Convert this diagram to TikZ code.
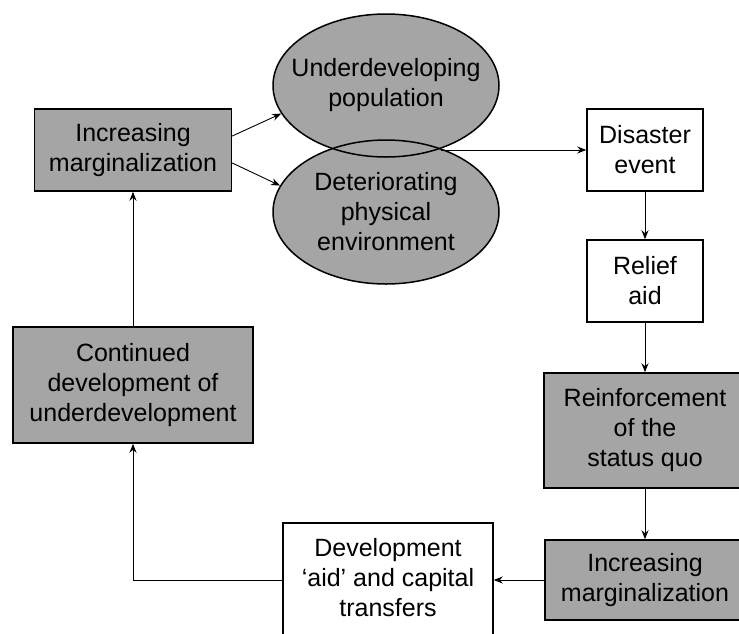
\documentclass[tikz,border=0pt]{standalone}
\usepackage{fontspec}
\setmainfont{Liberation Sans}
\usetikzlibrary{arrows.meta,shapes}
\definecolor{hatchgray}{RGB}{165,165,165}

\begin{document}
\begin{tikzpicture}[->,>={Stealth[length=9pt,width=7pt]},x=1pt,y=-1pt,line width=0.9pt,
  font=\fontsize{25}{30}\selectfont]
 \tikzstyle{every node}=[align=center,inner sep=0pt]
 \tikzstyle{plain box}=[draw,line width=1.5pt,fill=white]
 \tikzstyle{shade box}=[draw,line width=1.5pt,fill=hatchgray]
 \tikzstyle{blob}=[draw,line width=1.5pt,ellipse,inner sep=-25pt,minimum width=226pt]
   \path[use as bounding box] (0,0) rectangle (739,633);
   \clip (0,0) rectangle (739,633);
   \fill[hatchgray] (386,85.5) ellipse [x radius=113, y radius=71.5];
   \fill[hatchgray] (386,212) ellipse [x radius=113, y radius=72];
   \node[blob,minimum height=143pt] (underpop) at (386,85.5) {\raisebox{-4pt}{\begin{tabular}{@{}c@{}}Underdeveloping\\population\end{tabular}}};
   \node[blob,minimum height=144pt] (deteriorate) at (386,212) {Deteriorating\\physical\\environment};
   \node[shade box,minimum width=197pt,minimum height=82pt] (margtop) at (133,150) {Increasing\\marginalization};
   \node[shade box,minimum width=240pt,minimum height=116pt] (continued) [below of = margtop, node distance=235pt] {Continued\\development of\\underdevelopment};
   \node[plain box,minimum width=116pt,minimum height=82pt] (disaster) at (645,150) {Disaster\\event};
   \node[plain box,minimum width=116pt,minimum height=82pt] (relief) [below of = disaster, node distance=131pt] {Relief\\aid};
   \node[shade box,minimum width=202pt,minimum height=115pt] (reinforce) [below of = relief, node distance=149.5pt] {Reinforcement\\of the\\status quo};
   \node[shade box,minimum width=200pt,minimum height=80pt] (margbot) [below of = reinforce, node distance=149.5pt] {Increasing\\marginalization};
   \node[plain box,minimum width=210pt,minimum height=114pt] (devaid) [left of = margbot, node distance=257pt] {\raisebox{-2pt}{\begin{tabular}{@{}c@{}}Development\\`aid' and capital\\transfers\end{tabular}}};
   \coordinate (meet) at (441,150);
    \draw ([yshift=14pt]margtop.east) -- (underpop.195);
    \draw ([yshift=-13pt]margtop.east) -- (deteriorate.166);
    \draw (meet) -- (disaster.west);
    \draw (disaster) -- (relief);
    \draw (relief) -- (reinforce);
    \draw (reinforce) -- (margbot);
    \draw (margbot) -- (devaid);
    \draw (devaid.west) -| (continued.south);
    \draw (continued) -- (margtop);
\end{tikzpicture}
\end{document}
